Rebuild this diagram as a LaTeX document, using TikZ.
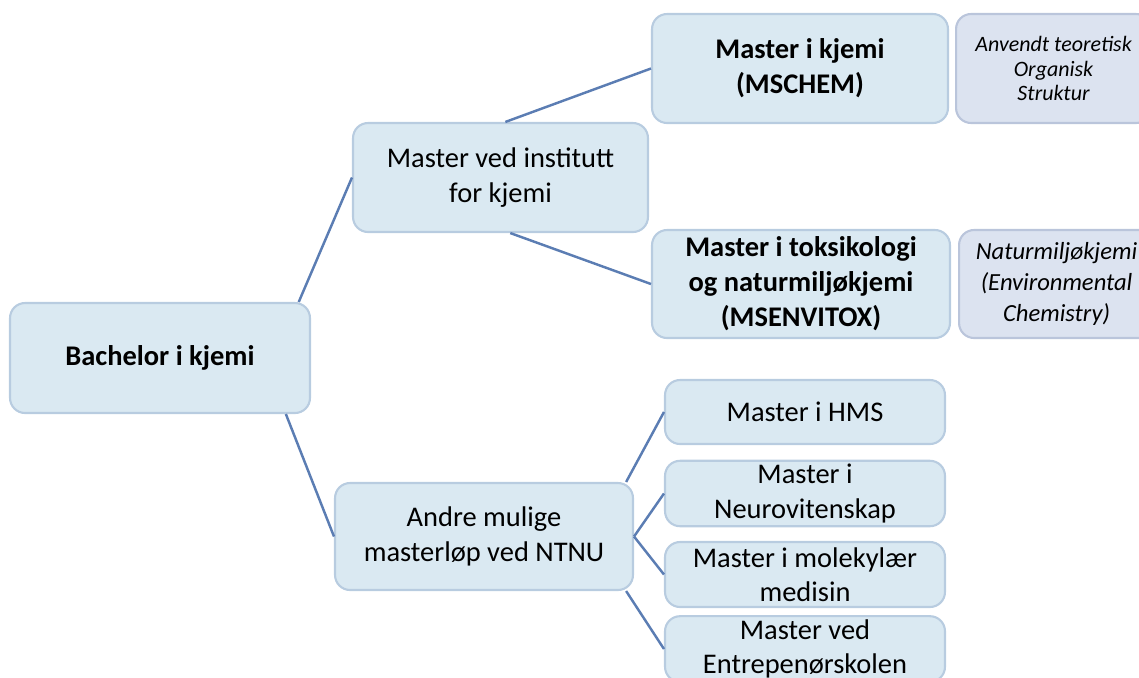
\documentclass[tikz,border=0pt]{standalone}
\usepackage{fontspec}
\setmainfont{Carlito}
\usepackage{tikz}
\usetikzlibrary{positioning,calc}
\definecolor{boxfill}{HTML}{DAE9F2}
\definecolor{boxline}{HTML}{B8CCE0}
\definecolor{notefill}{HTML}{DCE3F0}
\definecolor{noteline}{HTML}{BAC5DB}
\definecolor{treeblue}{HTML}{5B7DB3}
\tikzset{
  chemnode/.style={draw=boxline, line width=1.2pt, rounded corners=0.3cm, fill=boxfill, align=center, inner sep=2pt},
  boldnode/.style={chemnode, font=\fontsize{16.2}{20}\selectfont\bfseries},
  plainnode/.style={chemnode, font=\fontsize{16.2}{19.5}\selectfont},
  notenode/.style={draw=noteline, line width=1.2pt, rounded corners=0.3cm, fill=notefill, align=center, inner sep=2pt, minimum width=3.9cm, anchor=west},
  treeline/.style={draw=treeblue, line width=1.4pt}
}
\begin{document}
\begin{tikzpicture}[x=0.02cm, y=-0.02cm]
  \useasboundingbox (0,0) rectangle (1139,677);
  \clip (0,0) rectangle (1139,677);
  % root and level one
  \node[boldnode, minimum width=6cm, minimum height=2.2cm] (bach) at (160,358) {Bachelor i kjemi};
  \node[plainnode, minimum width=5.9cm, minimum height=2.18cm] (inst) at (500.5,177.5) {Master ved institutt\\for kjemi};
  \node[plainnode, minimum width=5.96cm, minimum height=2.14cm] (andre) at (484,536.5) {Andre mulige\\masterløp ved NTNU};
  % masters at the department
  \node[boldnode, minimum width=5.92cm, minimum height=2.18cm] (mschem) at (800,68.5) {Master i kjemi\\(MSCHEM)};
  \node[boldnode, minimum width=5.96cm, minimum height=2.16cm] (msenv) at (801,284) {Master i toksikologi\\og naturmiljøkjemi\\(MSENVITOX)};
  \node[notenode, minimum height=2.18cm, font=\fontsize{12.5}{14}\selectfont\itshape] (chemnote) at (955,68.5) {Anvendt teoretisk\\Organisk\\Struktur};
  \node[notenode, minimum height=2.16cm, font=\fontsize{14}{17.5}\selectfont\itshape] (envnote) at (958,284) {Naturmiljøkjemi\\(Environmental\\Chemistry)};
  % other masters at NTNU
  \node[plainnode, minimum width=5.6cm, minimum height=1.28cm] (hms) at (805,412) {Master i HMS};
  \node[plainnode, minimum width=5.6cm, minimum height=1.3cm] (neuro) at (805,493.5) {Master i\\Neurovitenskap};
  \node[plainnode, minimum width=5.6cm, minimum height=1.3cm] (molmed) at (805,574.5) {Master i molekylær\\medisin};
  \node[plainnode, minimum width=5.6cm, minimum height=1.3cm] (entre) at (805,649) {Master ved\\Entrepenørskolen};
  % connectors
  \draw[treeline] (bach.22) -- (inst.west);
  \draw[treeline] (bach.-24) -- (andre.west);
  \draw[treeline] (inst.85) -- (mschem.west);
  \draw[treeline] (inst.-80) -- (msenv.west);
  \draw[treeline] (andre.21) -- (hms.west);
  \draw[treeline] (andre.east) -- (neuro.west);
  \draw[treeline] (andre.east) -- (molmed.west);
  \draw[treeline] (andre.-21) -- (entre.west);
\end{tikzpicture}
\end{document}
